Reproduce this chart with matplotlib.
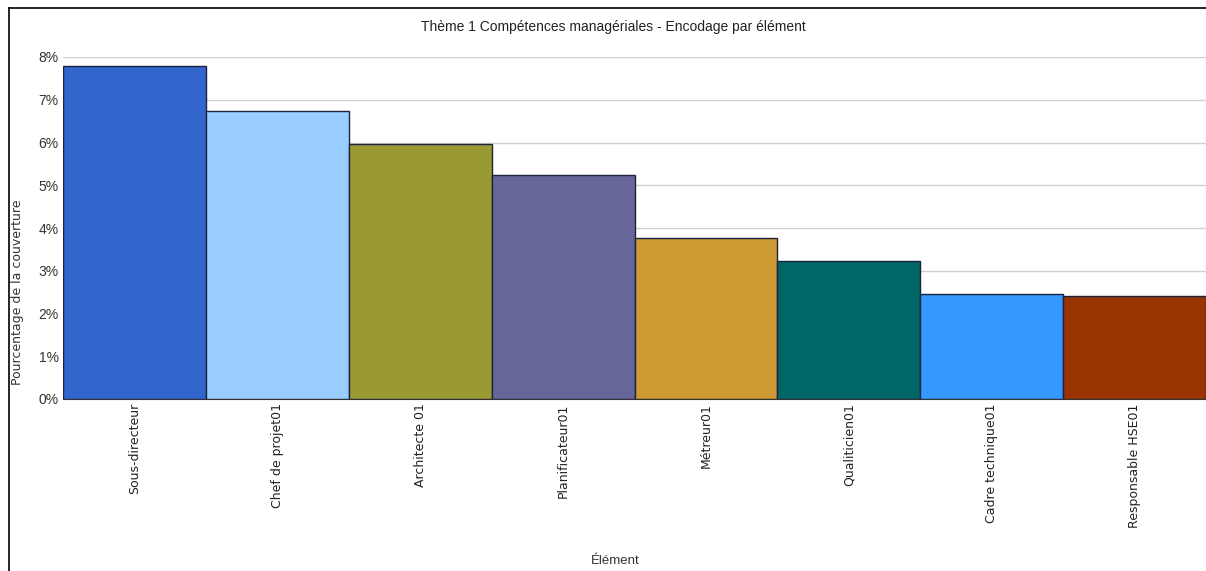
import matplotlib.pyplot as plt
from matplotlib.lines import Line2D
from matplotlib.ticker import FuncFormatter

# données
elements = ["Sous-directeur", "Chef de projet01", "Architecte 01", "Planificateur01",
            "Métreur01", "Qualiticien01", "Cadre technique01", "Responsable HSE01"]
couverture = [7.79, 6.74, 5.96, 5.24, 3.77, 3.23, 2.46, 2.41]
couleurs = ["#3366CC", "#99CCFF", "#999933", "#666699",
            "#CC9933", "#006666", "#3399FF", "#993300"]

arial = ["Liberation Sans", "DejaVu Sans"]
large = ["DejaVu Sans"]

fig = plt.figure(figsize=(12.06, 5.71), dpi=100)
ax = fig.add_axes([63 / 1206, 1 - 399 / 571, 1 - 63 / 1206, (399 - 57) / 571])

x = list(range(len(elements)))
ax.bar(x, couverture, width=1.0, color=couleurs, edgecolor="#1c2340", linewidth=1.0, zorder=3)
ax.set_xlim(-0.5, len(elements) - 0.5)
ax.set_ylim(0, 8)
ax.set_yticks(range(0, 9))
ax.yaxis.set_major_formatter(FuncFormatter(lambda v, p: f"{int(v)}%"))
ax.grid(axis="y", color="#d0d0d0", linewidth=1.0, zorder=0)
for s in ["top", "right", "left"]:
    ax.spines[s].set_visible(False)
ax.spines["bottom"].set_color("#333333")
ax.tick_params(axis="both", length=0, pad=3)
ax.set_xticks(x)
ax.set_xticklabels(elements, rotation=90, fontsize=9, family=large, color="#222222")
for lab in ax.get_yticklabels():
    lab.set_family(arial)
    lab.set_fontsize(10)
    lab.set_color("#333333")

fig.text(18 / 1206, 1 - 292 / 571, "Pourcentage de la couverture", rotation=90,
         ha="center", va="center", fontsize=9, family=large, color="#333333")
fig.text(615 / 1206, 1 - 561 / 571, "Élément", ha="center", va="center",
         fontsize=9.5, family=arial, color="#333333")
fig.text(613 / 1206, 1 - 27 / 571, "Thème 1 Compétences managériales - Encodage par élément",
         ha="center", va="center", fontsize=10, family=arial, color="#222222")

# cadre autour du graphique
fig.add_artist(Line2D([9 / 1206, 9 / 1206], [0, 1 - 8 / 571], color="black", linewidth=1.2))
fig.add_artist(Line2D([9 / 1206, 1], [1 - 8 / 571, 1 - 8 / 571], color="black", linewidth=1.2))

fig.savefig("out.png", dpi=100)
